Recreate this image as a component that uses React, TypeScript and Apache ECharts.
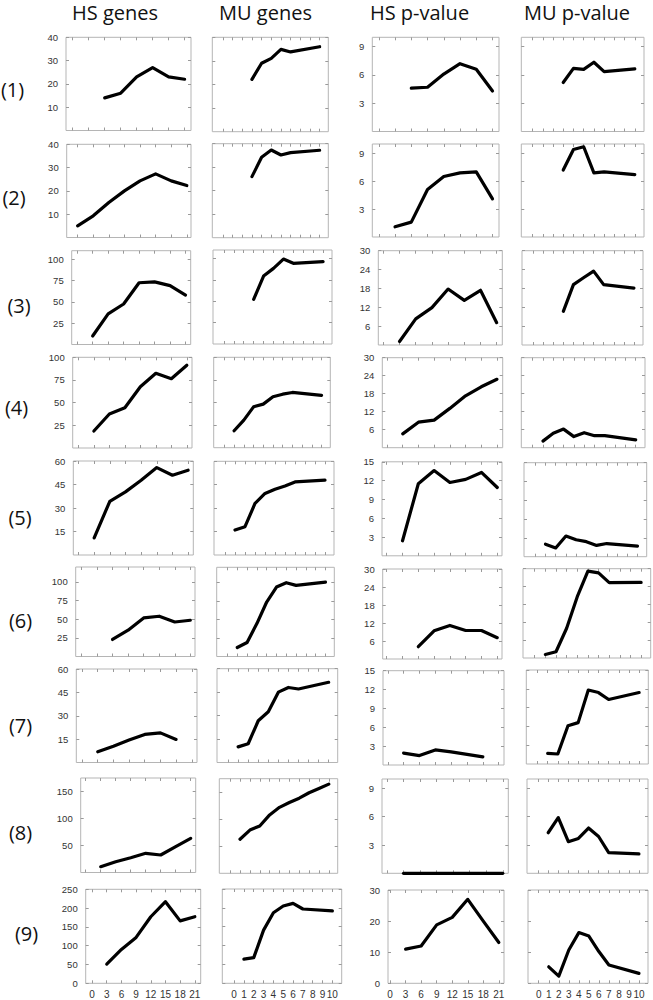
import React, { useEffect, useRef } from "react";
import * as echarts from "echarts";

// ---------- text ----------
const columnTitles = ["HS genes", "MU genes", "HS p-value", "MU p-value"];
const rowLabels = ["(1)", "(2)", "(3)", "(4)", "(5)", "(6)", "(7)", "(8)", "(9)"];

// ---------- tick values ----------
const hsTicks = [0, 3, 6, 9, 12, 15, 18, 21];
const muTicks = [0, 1, 2, 3, 4, 5, 6, 7, 8, 9, 10];
const genesYMax = [40, 40, 110, 100, 60, 120, 60, 175, 250];
const genesYTicks = [
  [10, 20, 30, 40],
  [10, 20, 30, 40],
  [25, 50, 75, 100],
  [25, 50, 75, 100],
  [15, 30, 45, 60],
  [25, 50, 75, 100],
  [15, 30, 45, 60],
  [50, 100, 150],
  [0, 50, 100, 150, 200, 250],
];
const pvalYMax = [10, 10, 30, 30, 15, 30, 15, 10, 30];
const pvalYTicks = [
  [3, 6, 9],
  [3, 6, 9],
  [6, 12, 18, 24, 30],
  [6, 12, 18, 24, 30],
  [3, 6, 9, 12, 15],
  [6, 12, 18, 24, 30],
  [3, 6, 9, 12, 15],
  [3, 6, 9],
  [0, 10, 20, 30],
];

// ---------- data: HS genes ----------
const hsGenesX = [
  [6, 9, 12, 15, 18, 21],
  [0, 3, 6, 9, 12, 15, 18, 21],
  [3, 6, 9, 12, 15, 18, 21],
  [3, 6, 9, 12, 15, 18, 21],
  [3, 6, 9, 12, 15, 18, 21],
  [6, 9, 12, 15, 18, 21],
  [3, 6, 9, 12, 15, 18],
  [3, 6, 9, 12, 15, 18, 21],
  [3, 6, 9, 12, 15, 18, 21],
];
const hsGenesY = [
  [14, 16, 23, 27, 23, 22],
  [5, 9.3, 15, 20, 24.3, 27.3, 24.3, 22.3],
  [10, 36, 47.5, 72.4, 73.5, 69, 58],
  [18.7, 37.5, 44.4, 67.6, 82.4, 76.4, 91.2],
  [10.9, 34.3, 40.3, 47.7, 55.8, 50.9, 54.1],
  [22.8, 35.2, 51.7, 54, 46.3, 48.6],
  [6.9, 10.5, 14.4, 18, 19, 14.8],
  [10.7, 20, 27.4, 35.5, 32.4, 47.8, 63.3],
  [51, 90, 122, 177, 217, 166, 177],
];

// ---------- data: MU genes ----------
const muGenesX = [
  [3, 4, 5, 6, 7, 10],
  [3, 4, 5, 6, 7, 10],
  [3, 4, 5, 6, 7, 10],
  [1, 2, 3, 4, 5, 6, 7, 10],
  [1, 2, 3, 4, 5, 6, 7, 10],
  [1, 2, 3, 4, 5, 6, 7, 10],
  [1, 2, 3, 4, 5, 6, 7, 10],
  [1, 2, 3, 4, 5, 6, 7, 8, 9, 10],
  [1, 2, 3, 4, 5, 6, 7, 10],
];
const muGenesY = [
  [22.2, 29, 31.1, 34.9, 33.8, 36],
  [26, 34.2, 37.3, 35.2, 36.2, 37.2],
  [52.3, 79.5, 88.5, 99.4, 94.4, 96.3],
  [18.7, 30.5, 45.2, 48.2, 56.3, 59.2, 61.1, 57.8],
  [16, 18.1, 33, 39.4, 42.1, 44.2, 46.8, 47.9],
  [12.1, 18.8, 44.3, 73.3, 93.4, 99.3, 95.7, 100.1],
  [10, 12, 26.7, 32.5, 45, 48, 47, 51.3],
  [63, 80, 87.6, 108, 122, 131, 139, 149, 157, 165],
  [64, 68, 141, 187, 205, 212, 197, 192],
];

// ---------- data: HS p-value ----------
const hsPvalX = [
  [6, 9, 12, 15, 18, 21],
  [3, 6, 9, 12, 15, 18, 21],
  [3, 6, 9, 12, 15, 18, 21],
  [3, 6, 9, 12, 15, 18, 21],
  [3, 6, 9, 12, 15, 18, 21],
  [6, 9, 12, 15, 18, 21],
  [3, 6, 9, 12, 15, 18],
  [3, 6, 9, 12, 15, 18, 21],
  [3, 6, 9, 12, 15, 18, 21],
];
const hsPvalY = [
  [4.6, 4.7, 6.1, 7.2, 6.6, 4.3],
  [1.1, 1.6, 5.1, 6.5, 6.9, 7.0, 4.1],
  [1.1, 8.3, 11.9, 17.8, 14.2, 17.4, 7.1],
  [4.6, 8.5, 9.2, 13.1, 17.3, 20.3, 22.8],
  [2.4, 11.5, 13.6, 11.7, 12.2, 13.3, 10.9],
  [4.1, 9.4, 11.2, 9.5, 9.5, 7.1],
  [1.9, 1.5, 2.4, 2.1, 1.7, 1.3],
  [0, 0, 0, 0, 0, 0, 0],
  [11, 12, 18.8, 21.2, 27, 20, 13.1],
];

// ---------- data: MU p-value ----------
const muPvalX = [
  [3, 4, 5, 6, 7, 10],
  [3, 4, 5, 6, 7, 10],
  [3, 4, 5, 6, 7, 10],
  [1, 2, 3, 4, 5, 6, 7, 10],
  [1, 2, 3, 4, 5, 6, 7, 10],
  [1, 2, 3, 4, 5, 6, 7, 10],
  [1, 2, 3, 4, 5, 6, 7, 10],
  [1, 2, 3, 4, 5, 6, 7, 10],
  [1, 2, 3, 4, 5, 6, 7, 10],
];
const muPvalY = [
  [5.2, 6.7, 6.6, 7.35, 6.35, 6.65],
  [7.2, 9.4, 9.7, 6.9, 7.0, 6.7],
  [10.7, 19.2, 21.4, 23.5, 19.2, 18.1],
  [2.2, 4.8, 6.2, 3.7, 5.0, 4.0, 4.0, 2.6],
  [2.0, 1.4, 3.3, 2.7, 2.4, 1.8, 2.1, 1.7],
  [1.2, 2.1, 10, 20.6, 29.2, 28.6, 25.3, 25.4],
  [1.7, 1.6, 6.1, 6.6, 11.8, 11.4, 10.3, 11.4],
  [4.3, 5.9, 3.35, 3.7, 4.8, 3.9, 2.2, 2.05],
  [5.3, 2.3, 10.7, 16.3, 15.2, 10.2, 5.9, 3.2],
];

// ---------- x-axis extents per panel (one per row) ----------
const hsGenesXRange = [
  [-1.26, 22.2], [-2.1, 21.8], [-1.06, 22], [-1.1, 22], [-1, 22],
  [-1.1, 21.9], [-1.1, 22], [-1, 22], [-1.3, 22.2],
];
const muGenesXRange = [
  [-1.1, 10.9], [-1.1, 10.9], [-1.1, 10.9], [-1.1, 10.9], [-1.1, 10.9],
  [-1.1, 10.9], [-1.1, 10.9], [-1.1, 10.9], [-1.2, 10.95],
];
const hsPvalXRange = [
  [-1.2, 22.2], [-1.2, 22.2], [-0.93, 22.04], [-0.9, 22.1], [-0.9, 21.9],
  [-0.76, 21.9], [-0.9, 22], [-0.9, 22], [-0.4, 22],
];
const muPvalXRange = [
  [-1.1, 10.9], [-1.1, 10.9], [-1.1, 10.9], [-1.1, 10.9], [-1.1, 10.9],
  [-1.1, 10.9], [-1.1, 10.9], [-1.1, 10.9], [-1.07, 10.9],
];

// ---------- layout (pixel boxes: left, top, right, bottom) ----------
const panelBoxes = [
  [[66, 37.3, 191, 130.5], [212.3, 37.3, 328.3, 131.7], [372.3, 37.3, 499, 131.5], [521.3, 37.3, 644, 131.5]],
  [[66.7, 144.3, 191, 237.5], [212.3, 143.7, 328.3, 237.7], [372.3, 144, 499, 237], [521.3, 144, 644, 237]],
  [[71.7, 250.7, 190.7, 344.5], [213, 250, 332, 344], [378.3, 250.7, 502.3, 345], [522, 250.7, 643, 345]],
  [[72.7, 357.3, 192, 448], [213.7, 357.3, 330.3, 447.7], [382.3, 357.7, 502.7, 447.7], [521.3, 357.7, 645, 447.7]],
  [[73.3, 461, 193.3, 555], [214, 461.3, 334, 555], [382, 461.8, 502, 555.8], [524, 462.7, 646.7, 556.7]],
  [[75.7, 567, 195, 656.5], [216.7, 567.3, 334.3, 656.5], [382.7, 569, 502, 659], [523, 568.7, 650.7, 658]],
  [[76.3, 669, 197, 762.5], [217, 668.7, 337.7, 762.5], [383, 670.7, 504, 765], [526.3, 670, 648.3, 764]],
  [[80.7, 778, 195.7, 872.5], [219.3, 778.7, 337.7, 873.3], [382, 779, 508.3, 873.3], [527, 779, 648, 873.3]],
  [[85.7, 889.3, 200.7, 983.3], [222.3, 889, 341.7, 983.3], [388, 890, 504, 983.3], [528, 890, 648, 983.3]],
];
const titlePos = [[115, 12], [265.5, 12], [419.5, 12], [577, 12]];
const rowLabelPos = [
  [12.5, 89], [14, 197], [19, 305], [16.5, 407], [20, 517],
  [20.5, 620], [20.5, 725], [20.5, 832], [26.5, 933],
];

const LABEL_FONT = "Liberation Sans";
const TEXT_FONT = "Open Sans";

function buildOption() {
  const grids: any[] = [];
  const xAxes: any[] = [];
  const yAxes: any[] = [];
  const series: any[] = [];
  const colX = [hsGenesX, muGenesX, hsPvalX, muPvalX];
  const colY = [hsGenesY, muGenesY, hsPvalY, muPvalY];
  const colRange = [hsGenesXRange, muGenesXRange, hsPvalXRange, muPvalXRange];

  for (let r = 0; r < 9; r++) {
    for (let c = 0; c < 4; c++) {
      const g = grids.length;
      const [l, t, rr, b] = panelBoxes[r][c];
      grids.push({
        left: l,
        top: t,
        width: rr - l,
        height: b - t,
        show: true,
        borderColor: "#b5b5b5",
        borderWidth: 1,
        backgroundColor: "transparent",
      });
      const isHS = c % 2 === 0;
      const xTicks = isHS ? hsTicks : muTicks;
      const [xmin, xmax] = colRange[c][r];
      const isGenes = c < 2;
      const ymax = isGenes ? genesYMax[r] : pvalYMax[r];
      const yTicks = isGenes ? genesYTicks[r] : pvalYTicks[r];
      const showYLabels = c === 0 || c === 2;
      const showXLabels = r === 8;
      const tickStyle = { color: "#9a9a9a", width: 1 };
      const baseX = {
        type: "value",
        gridIndex: g,
        min: xmin,
        max: xmax,
        axisLine: { show: false, onZero: false },
        splitLine: { show: false },
        axisTick: { show: true, inside: true, length: 3, customValues: xTicks, lineStyle: tickStyle },
      };
      xAxes.push({
        ...baseX,
        position: "bottom",
        axisLabel: {
          show: showXLabels,
          customValues: xTicks,
          margin: 6,
          fontSize: 10,
          color: "#333",
          fontFamily: LABEL_FONT,
        },
      });
      xAxes.push({ ...baseX, position: "top", axisLabel: { show: false } });
      const baseY = {
        type: "value",
        gridIndex: g,
        min: 0,
        max: ymax,
        axisLine: { show: false, onZero: false },
        splitLine: { show: false },
        axisTick: { show: true, inside: true, length: 3, customValues: yTicks, lineStyle: tickStyle },
      };
      yAxes.push({
        ...baseY,
        position: "left",
        axisLabel: {
          show: showYLabels,
          customValues: yTicks,
          margin: 8,
          fontSize: 9.5,
          color: "#333",
          fontFamily: LABEL_FONT,
        },
      });
      yAxes.push({ ...baseY, position: "right", axisLabel: { show: false } });

      const xs = colX[c][r];
      const ys = colY[c][r];
      series.push({
        type: "line",
        xAxisIndex: g * 2,
        yAxisIndex: g * 2,
        data: xs.map((x, i) => [x, ys[i]]),
        symbol: "none",
        clip: false,
        lineStyle: { color: "#000", width: 3.2, join: "round", cap: "round" },
        z: 5,
      });
    }
  }

  const graphic: any[] = [];
  columnTitles.forEach((t, i) => {
    graphic.push({
      type: "text",
      x: titlePos[i][0],
      y: titlePos[i][1],
      style: {
        text: t,
        align: "center",
        verticalAlign: "middle",
        fontSize: 20,
        fontFamily: TEXT_FONT,
        fill: "#111",
      },
    });
  });
  rowLabels.forEach((t, i) => {
    graphic.push({
      type: "text",
      x: rowLabelPos[i][0],
      y: rowLabelPos[i][1],
      style: {
        text: t,
        align: "center",
        verticalAlign: "middle",
        fontSize: 20,
        fontFamily: TEXT_FONT,
        fill: "#111",
      },
    });
  });

  return {
    animation: false,
    backgroundColor: "#fff",
    grid: grids,
    xAxis: xAxes,
    yAxis: yAxes,
    series,
    graphic,
  };
}

export default function App() {
  const ref = useRef<HTMLDivElement>(null);
  useEffect(() => {
    if (!ref.current) return;
    const chart = echarts.init(ref.current, undefined, { renderer: "svg" });
    chart.setOption(buildOption() as any);
    return () => chart.dispose();
  }, []);
  return (
    <div
      ref={ref}
      style={{ position: "absolute", left: 0, top: 0, width: 653, height: 1000 }}
    />
  );
}
